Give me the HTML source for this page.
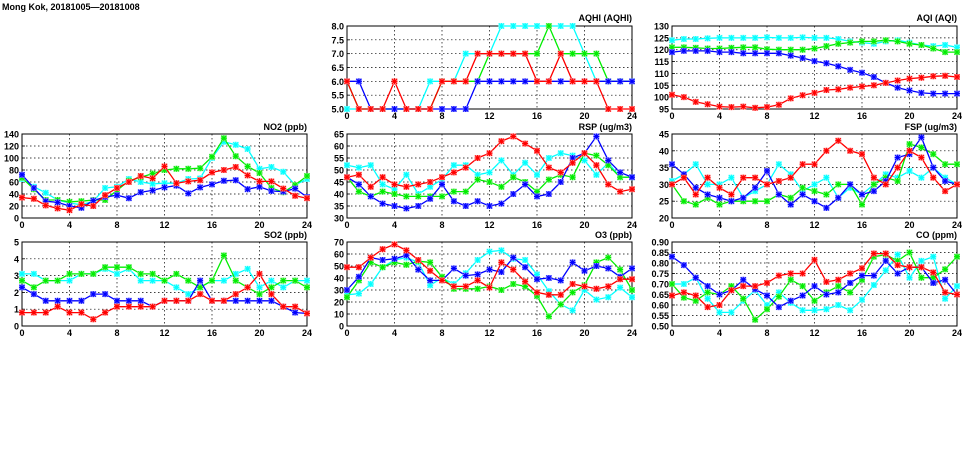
<!DOCTYPE html>
<html><head><meta charset="utf-8"><style>
body{margin:0;background:#fff;width:975px;height:447px;overflow:hidden;font-family:"Liberation Sans",sans-serif}
svg text{font-family:"Liberation Sans",sans-serif;font-weight:bold;font-size:9px}
</style></head><body>
<svg id="s" width="975" height="447" xmlns="http://www.w3.org/2000/svg">
<text x="2" y="10" font-size="10px">Mong Kok, 20181005—20181008</text>
<text x="632" y="21" text-anchor="end">AQHI (AQHI)</text>
<text x="957" y="21" text-anchor="end">AQI (AQI)</text>
<text x="307" y="130" text-anchor="end">NO2 (ppb)</text>
<text x="632" y="130" text-anchor="end">RSP (ug/m3)</text>
<text x="957" y="130" text-anchor="end">FSP (ug/m3)</text>
<text x="307" y="238" text-anchor="end">SO2 (ppb)</text>
<text x="632" y="238" text-anchor="end">O3 (ppb)</text>
<text x="957" y="238" text-anchor="end">CO (ppm)</text>
</svg>
<script>
var S=document.getElementById('s'),NS='http://www.w3.org/2000/svg';
function el(t,a,txt){var e=document.createElementNS(NS,t);for(var k in a)e.setAttribute(k,a[k]);if(txt!=null)e.textContent=txt;S.appendChild(e);return e;}
var cols=['#00ffff','#00ee00','#0000ff','#ff0000'],light=['#a0ffff','#a0f0a0','#a0a0ff','#ffa0a0'];
var P=[
{x:347,y:26,h:83,min:5,max:8,st:0.5,d:1,data:[
[5,5,5,5,5,5,5,6,6,6,7,7,7,8,8,8,8,8,8,8,7,6,6,6,6],
[6,5,5,5,5,5,5,5,6,6,6,6,7,7,7,7,7,8,7,7,7,7,6,6,6],
[6,6,5,5,5,5,5,5,5,5,5,6,6,6,6,6,6,6,6,6,6,6,6,6,6],
[6,5,5,5,6,5,5,5,6,6,6,7,7,7,7,7,6,6,7,6,6,6,5,5,5]]},
{x:672,y:26,h:83,min:95,max:130,st:5,d:0,data:[
[124,124.5,124.5,124.8,125,125,125,125,125.2,125,125,125.2,125,125,124.5,123.5,123,122.5,123.5,124,123,122,121.5,122,121],
[121,121,120.8,120.5,120.5,120.8,121,121,120.2,120,120,120,120.5,121.5,122.5,123,123.5,123.5,124,123.5,122.5,122,120.5,119,119],
[119,119.5,119.5,119.5,119,119,118.5,118.5,118.5,118.5,117.5,116.5,115.2,114.3,113,111.5,110.3,108.5,106,104,102.8,101.8,101.5,101.5,101.5],
[101,100,98,97,96,95.8,96,95.5,95.8,96.8,99.5,100.8,101.8,103,103.3,104,104.5,105,106,107,107.8,108.2,108.8,109,108.5]]},
{x:22,y:134,h:84,min:0,max:140,st:20,d:0,data:[
[65,52,42,30,25,22,28,50,52,65,60,57,58,58,65,66,100,127,122,115,82,85,77,55,65],
[67,48,30,30,27,28,30,30,46,62,68,74,80,82,82,83,102,133,103,86,75,50,43,55,70],
[72,50,28,26,20,17,29,35,38,33,43,46,51,54,41,51,56,62,63,48,52,45,44,49,35],
[34,32,21,16,13,23,20,38,50,60,70,66,86,58,61,63,76,80,85,71,61,61,49,37,33]]},
{x:347,y:134,h:84,min:30,max:65,st:5,d:0,data:[
[52,51,52,44,42,48,40,43,46,52,52,48,49,54,48,53,48,55,57,56,54,48,53,47,47],
[47,41,39,41,40,39,39,39,39,41,41,46,45,43,47,45,41,46,48,47,57,56,52,47,47],
[47,44,39,36,35,34,35,38,44,37,35,37,35,36,40,44,39,40,45,55,57,64,54,49,47],
[47,48,43,47,44,43,44,45,47,49,51,55,57,62,64,61,58,51,49,53,57,52,44,41,42]]},
{x:672,y:134,h:84,min:20,max:45,st:5,d:0,data:[
[31,33,36,30,30,32,26,28,30,36,33,28,30,32,26,29,27,30,33,32,34,32,35,32,30],
[30,25,24,26,24,25,25,25,25,27,26,29,28,27,30,30,24,30,32,31,42,41,39,36,36],
[36,33,29,27,26,25,26,29,34,27,24,27,25,23,26,30,27,28,31,38,39,44,35,31,30],
[30,32,27,32,29,27,32,32,30,31,32,36,36,40,43,40,39,32,30,35,40,38,32,28,30]]},
{x:22,y:242,h:84,min:0,max:5,st:1,d:0,data:[
[3.1,3.1,2.7,2.7,2.7,3.1,3.1,3.4,3.1,3.4,2.7,2.7,2.7,2.3,1.9,2.3,2.7,2.7,3.1,3.4,2.3,2.7,2.3,2.7,2.7],
[2.7,2.3,2.7,2.7,3.1,3.1,3.1,3.5,3.5,3.5,3.1,3.1,2.7,3.1,2.7,2.3,2.7,4.2,2.7,2.3,1.9,2.3,2.7,2.7,2.3],
[2.3,1.9,1.5,1.5,1.5,1.5,1.9,1.9,1.5,1.5,1.5,1.15,1.5,1.5,1.5,2.7,1.5,1.5,1.5,1.5,1.5,1.5,1.15,0.8,0.75],
[0.8,0.8,0.8,1.15,0.8,0.8,0.4,0.8,1.15,1.15,1.15,1.15,1.5,1.5,1.5,1.9,1.5,1.5,1.9,2.3,3.1,1.9,1.15,1.15,0.75]]},
{x:347,y:242,h:84,min:0,max:70,st:10,d:0,data:[
[26,27,35,49,55,57,53,34,40,35,44,55,62,63,56,55,43,29,18,13,30,22,24,32,24],
[24,38,53,49,53,51,54,53,41,31,31,31,33,30,35,33,25,8,18,28,34,53,57,47,30],
[30,41,57,55,56,59,47,38,38,48,42,43,47,45,57,49,39,40,38,53,46,50,48,41,48],
[49,49,57,64,68,63,55,46,38,33,33,38,32,53,47,37,28,26,26,35,33,31,33,39,39]]},
{x:672,y:242,h:84,min:0.5,max:0.9,st:0.05,d:2,data:[
[0.70,0.70,0.73,0.63,0.565,0.565,0.62,0.67,0.60,0.66,0.61,0.575,0.575,0.58,0.60,0.575,0.625,0.695,0.765,0.84,0.73,0.81,0.83,0.63,0.69],
[0.70,0.635,0.62,0.66,0.65,0.69,0.63,0.53,0.58,0.64,0.72,0.69,0.62,0.66,0.69,0.66,0.72,0.83,0.84,0.81,0.85,0.73,0.73,0.77,0.83],
[0.83,0.79,0.73,0.69,0.65,0.67,0.72,0.675,0.645,0.59,0.62,0.645,0.69,0.65,0.66,0.705,0.74,0.74,0.81,0.75,0.78,0.78,0.705,0.72,0.65],
[0.645,0.66,0.645,0.59,0.60,0.67,0.69,0.69,0.705,0.74,0.75,0.75,0.815,0.71,0.72,0.75,0.775,0.845,0.845,0.79,0.78,0.78,0.755,0.66,0.65]]}
];
var W=285;
P.forEach(function(p){
 var n=Math.round((p.max-p.min)/p.st);
 function Y(v){return p.y+p.h-(v-p.min)/(p.max-p.min)*p.h;}
 function X(i){return p.x+i/24*W;}
 for(var k=0;k<=n;k++){var v=p.min+k*p.st,yy=Y(v);
  if(k>0&&k<n)el('line',{x1:p.x,x2:p.x+W,y1:yy,y2:yy,stroke:'#000','stroke-width':0.7,'stroke-dasharray':'1.5,2.5'});
  el('line',{x1:p.x,x2:p.x+3,y1:yy,y2:yy,stroke:'#000','stroke-width':0.8});
  el('text',{x:p.x-3,y:yy+3.5,'text-anchor':'end'},v.toFixed(p.d));}
 for(var t=0;t<=24;t+=4){var xx=X(t);
  if(t>0&&t<24)el('line',{x1:xx,x2:xx,y1:p.y,y2:p.y+p.h,stroke:'#000','stroke-width':0.7,'stroke-dasharray':'1.5,2.5'});
  el('text',{x:xx,y:p.y+p.h+10,'text-anchor':'middle'},String(t));}
 el('rect',{x:p.x,y:p.y,width:W,height:p.h,fill:'none',stroke:'#000','stroke-width':1});
 p.data.forEach(function(s,ci){
  var pts=s.map(function(v,i){return X(i).toFixed(1)+','+Y(v).toFixed(1)}).join(' ');
  el('polyline',{points:pts,fill:'none',stroke:cols[ci],'stroke-width':1.3});
  s.forEach(function(v,i){var x=X(i),y=Y(v);
   el('rect',{x:x-3,y:y-3,width:6,height:6,fill:light[ci]});
   el('path',{d:'M'+(x-2.5)+' '+(y-2.5)+'L'+(x+2.5)+' '+(y+2.5)+'M'+(x-2.5)+' '+(y+2.5)+'L'+(x+2.5)+' '+(y-2.5)+'M'+(x-3)+' '+y+'L'+(x+3)+' '+y+'M'+x+' '+(y-3)+'L'+x+' '+(y+3),stroke:cols[ci],'stroke-width':1.1});
  });
 });
});
</script>
</body></html>
